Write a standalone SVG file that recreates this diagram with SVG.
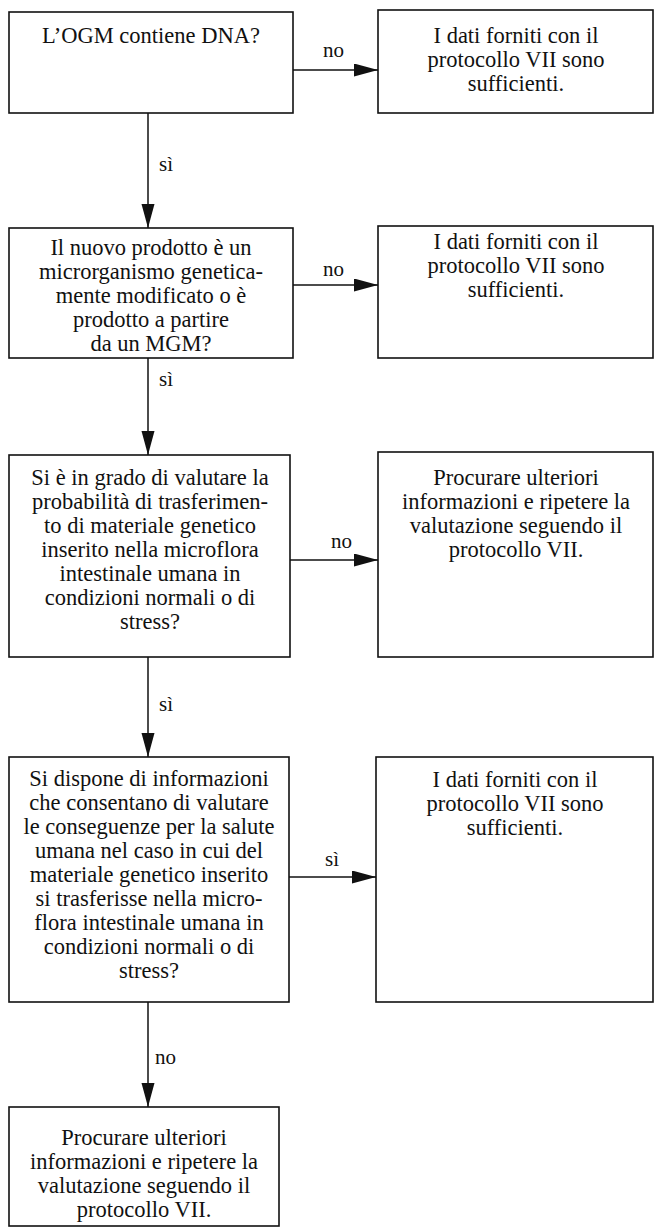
<svg xmlns="http://www.w3.org/2000/svg" width="655" height="1228" viewBox="0 0 655 1228">
<style>
.box{fill:#fff;stroke:#111;stroke-width:1.6}
.t{font-size:22.5px;fill:#111;text-anchor:middle}
.lbl{font-size:21px;fill:#111}
.c{stroke:#111;stroke-width:1.5;fill:none;marker-end:url(#ah)}
</style>
<defs>
<marker id="ah" markerUnits="userSpaceOnUse" markerWidth="26" markerHeight="16" refX="24" refY="6.5" orient="auto">
<path d="M0,0 L24,6.5 L0,13 Z" fill="#111"/>
</marker>
</defs>
<rect width="655" height="1228" fill="#fff"/>
<g font-family="'Liberation Serif', 'Times New Roman', 'DejaVu Serif', serif">
<g id="n1"><rect class="box" x="9" y="12" width="284" height="101"/>
<text class="t" x="151" y="43">L’OGM contiene DNA?</text></g>
<g id="r1"><rect class="box" x="378" y="10" width="275" height="103"/>
<text class="t" x="516" y="43">I dati forniti con il</text>
<text class="t" x="516" y="67">protocollo VII sono</text>
<text class="t" x="516" y="91">sufficienti.</text></g>
<g id="n2"><rect class="box" x="9" y="228" width="284" height="130"/>
<text class="t" x="151" y="255">Il nuovo prodotto è un</text>
<text class="t" x="151" y="279">microrganismo genetica-</text>
<text class="t" x="151" y="303">mente modificato o è</text>
<text class="t" x="151" y="327">prodotto a partire</text>
<text class="t" x="151" y="351">da un MGM?</text></g>
<g id="r2"><rect class="box" x="378" y="226" width="275" height="132"/>
<text class="t" x="516" y="249">I dati forniti con il</text>
<text class="t" x="516" y="273">protocollo VII sono</text>
<text class="t" x="516" y="297">sufficienti.</text></g>
<g id="n3"><rect class="box" x="9" y="455" width="281" height="202"/>
<text class="t" x="150" y="485">Si è in grado di valutare la</text>
<text class="t" x="150" y="509">probabilità di trasferimen-</text>
<text class="t" x="150" y="533">to di materiale genetico</text>
<text class="t" x="150" y="557">inserito nella microflora</text>
<text class="t" x="150" y="581">intestinale umana in</text>
<text class="t" x="150" y="605">condizioni normali o di</text>
<text class="t" x="150" y="629">stress?</text></g>
<g id="r3"><rect class="box" x="378" y="452" width="275" height="205"/>
<text class="t" x="516" y="485">Procurare ulteriori</text>
<text class="t" x="516" y="509">informazioni e ripetere la</text>
<text class="t" x="516" y="533">valutazione seguendo il</text>
<text class="t" x="516" y="557">protocollo VII.</text></g>
<g id="n4"><rect class="box" x="9" y="757" width="280" height="245"/>
<text class="t" x="149" y="786">Si dispone di informazioni</text>
<text class="t" x="149" y="810">che consentano di valutare</text>
<text class="t" x="149" y="834">le conseguenze per la salute</text>
<text class="t" x="149" y="858">umana nel caso in cui del</text>
<text class="t" x="149" y="882">materiale genetico inserito</text>
<text class="t" x="149" y="906">si trasferisse nella micro-</text>
<text class="t" x="149" y="930">flora intestinale umana in</text>
<text class="t" x="149" y="954">condizioni normali o di</text>
<text class="t" x="149" y="978">stress?</text></g>
<g id="r4"><rect class="box" x="376" y="757" width="277" height="245"/>
<text class="t" x="515" y="787">I dati forniti con il</text>
<text class="t" x="515" y="811">protocollo VII sono</text>
<text class="t" x="515" y="835">sufficienti.</text></g>
<g id="n5"><rect class="box" x="9" y="1107" width="270" height="119"/>
<text class="t" x="144" y="1145">Procurare ulteriori</text>
<text class="t" x="144" y="1169">informazioni e ripetere la</text>
<text class="t" x="144" y="1193">valutazione seguendo il</text>
<text class="t" x="144" y="1217">protocollo VII.</text></g>
<g id="connectors">
<line class="c" x1="293" y1="70" x2="378" y2="70"/>
<text class="lbl" x="323" y="57">no</text>
<line class="c" x1="148" y1="113" x2="148" y2="228"/>
<text class="lbl" x="159" y="171">sì</text>
<line class="c" x1="293" y1="285" x2="378" y2="285"/>
<text class="lbl" x="323" y="276">no</text>
<line class="c" x1="148" y1="358" x2="148" y2="455"/>
<text class="lbl" x="159" y="386">sì</text>
<line class="c" x1="290" y1="560" x2="378" y2="560"/>
<text class="lbl" x="331" y="548">no</text>
<line class="c" x1="148" y1="657" x2="148" y2="757"/>
<text class="lbl" x="159" y="711">sì</text>
<line class="c" x1="289" y1="877" x2="376" y2="877"/>
<text class="lbl" x="325" y="866">sì</text>
<line class="c" x1="148" y1="1002" x2="148" y2="1107"/>
<text class="lbl" x="155" y="1064">no</text>
</g>
</g>
</svg>
